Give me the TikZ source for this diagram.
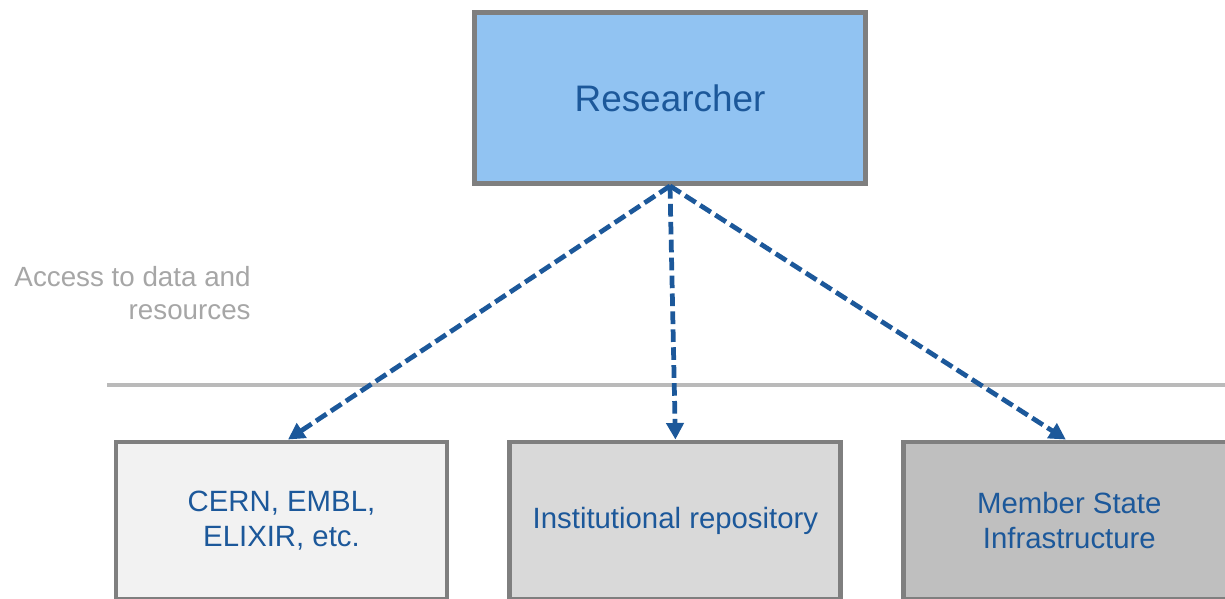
\documentclass[tikz,border=0pt]{standalone}
\usepackage{fontspec}
\setmainfont{Liberation Sans}
\usepackage{xcolor}
\usetikzlibrary{arrows.meta,positioning}

\definecolor{textblue}{RGB}{28,88,154}
\definecolor{boxborder}{RGB}{127,127,127}
\definecolor{researcherfill}{RGB}{145,195,242}
\definecolor{linegray}{RGB}{186,186,186}
\definecolor{labelgray}{RGB}{166,166,166}

\begin{document}
\begin{tikzpicture}[
    node distance=1.16cm,
    % the boxes
    infra/.style={
        rectangle,
        draw=boxborder,
        line width=2.8pt,
        minimum width=6.62cm,
        minimum height=3.14cm,
        align=center,
        text=textblue,
        font=\fontsize{16.7pt}{19.8pt}\selectfont},
    % the dashed links
    access/.style={
        draw=textblue,
        line width=2.7pt,
        dash pattern=on 7.2pt off 3pt,
        -{Triangle[length=3.3mm,width=3.4mm,fill=textblue]}}
  ]
  \useasboundingbox (0,0) rectangle (24.5,-11.98);
  \node (researcher) [rectangle, draw=boxborder, line width=2.8pt,
    fill=researcherfill, minimum width=7.83cm, minimum height=3.42cm,
    text=textblue, font=\fontsize{21pt}{25pt}\selectfont]
    at (13.4,-1.96) {Researcher};
  \node (cern) [infra, fill=black!5] at (5.63,-10.41) {CERN, EMBL,\\ELIXIR, etc.};
  \node (repo) [infra, fill=black!15, right=of cern] {Institutional repository};
  \node (msi) [infra, fill=black!25, right=of repo] {Member State\\Infrastructure};
  % separator and label
  \coordinate (sepleft) at (2.14,-7.7);
  \coordinate (sepright) at (24.5,-7.7);
  \draw [linegray, line width=2.1pt] (sepleft) -- (sepright);
  \node (label) [anchor=east, inner sep=0pt, align=right, text=labelgray,
    font=\fontsize{15.8pt}{18.7pt}\selectfont]
    at (5.02,-5.87) {Access to data and\\resources};
  \draw [access] (researcher.south) -- ([xshift=1.3mm]cern.north);
  \draw [access] (researcher.south) -- (repo.north);
  \draw [access] (researcher.south) -- ([xshift=-0.7mm]msi.north);
\end{tikzpicture}
\end{document}
